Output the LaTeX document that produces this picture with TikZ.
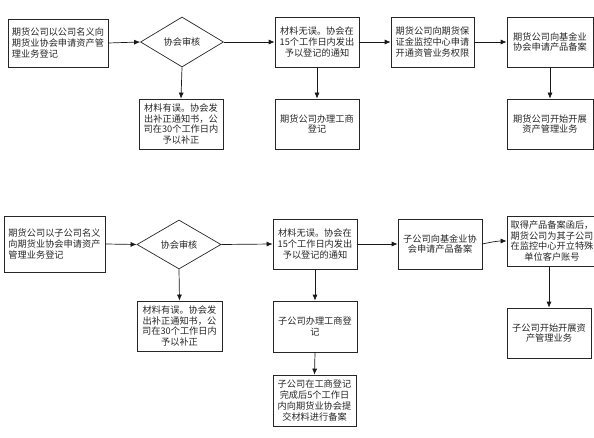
\documentclass[tikz,border=0pt]{standalone}
\usepackage{fontspec}
\setmainfont{Noto Sans CJK SC}
\usetikzlibrary{shapes.geometric,arrows.meta}
\tikzset{
  box/.style={draw=black!85, line width=0.7pt, rectangle, inner sep=0pt, align=center,
    font=\fontsize{9.2}{10.8}\selectfont, text=black!85},
  dia/.style={draw=black!85, line width=0.7pt, diamond, inner sep=0pt, aspect=1.66,
    font=\fontsize{9.2}{10.8}\selectfont, text=black!85},
  arr/.style={draw=black!90, line width=0.7pt, -{Latex[length=6pt,width=5pt]}},
}
\begin{document}
\begin{tikzpicture}[x=1pt,y=-1pt]
\useasboundingbox (0,0) rectangle (594,438);
\clip (0,0) rectangle (594,438);
% top row
\node[box, minimum width=100pt, minimum height=48pt, align=left] (A1) at (58,43)
  {期货公司以公司名义向\\期货业协会申请资产管\\理业务登记};
\node[dia, minimum width=83pt, minimum height=50pt] (D1) at (182,42) {协会审核};
\node[box, minimum width=84pt, minimum height=50pt] (D1L) at (181,124)
  {材料有误。协会发\\出补正通知书，公\\司在30个工作日内\\予以补正};
\node[box, minimum width=84pt, minimum height=50pt] (B1) at (317,42)
  {材料无误。协会在\\15个工作日内发出\\予以登记的通知};
\node[box, minimum width=84pt, minimum height=50pt] (B1L) at (317,124)
  {期货公司办理工商\\登记};
\node[box, minimum width=83pt, minimum height=50pt] (C1) at (432.5,42)
  {期货公司向期货保\\证金监控中心申请\\开通资管业务权限};
\node[box, minimum width=86pt, minimum height=50pt] (E1) at (550,42)
  {期货公司向基金业\\协会申请产品备案};
\node[box, minimum width=86pt, minimum height=50pt] (E1L) at (550,124)
  {期货公司开始开展\\资产管理业务};
\draw[arr] (A1.east) -- (D1.west);
\draw[arr] (D1.east) -- (B1.west);
\draw[arr] (D1.south) -- (D1L.north);
\draw[arr] (B1.east) -- (C1.west);
\draw[arr] (C1.east) -- (E1.west);
\draw[arr] (B1.south) -- (B1L.north);
\draw[arr] (E1.south) -- (E1L.north);
% bottom row
\node[box, minimum width=101pt, minimum height=56pt, align=left] (A2) at (54.5,244)
  {期货公司以子公司名义\\向期货业协会申请资产\\管理业务登记};
\node[dia, minimum width=84pt, minimum height=49pt] (D2) at (179,244.5) {协会审核};
\node[box, minimum width=85pt, minimum height=50pt] (D2L) at (179.5,326)
  {材料有误。协会发\\出补正通知书，公\\司在30个工作日内\\予以补正};
\node[box, minimum width=84pt, minimum height=50pt] (B2) at (315,244)
  {材料无误。协会在\\15个工作日内发出\\予以登记的通知};
\node[box, minimum width=84pt, minimum height=51pt] (B2L) at (315,326.5)
  {子公司办理工商登\\记};
\node[box, minimum width=83pt, minimum height=51pt] (B2B) at (314.5,400.5)
  {子公司在工商登记\\完成后5个工作日\\内向期货业协会提\\交材料进行备案};
\node[box, minimum width=84pt, minimum height=50pt] (C2) at (440,244)
  {子公司向基金业协\\会申请产品备案};
\node[box, minimum width=90pt, minimum height=50pt] (E2) at (552,241)
  {取得产品备案函后，\\期货公司为其子公司\\在监控中心开立特殊\\单位客户账号};
\node[box, minimum width=84pt, minimum height=50pt] (E2L) at (549,333)
  {子公司开始开展资\\产管理业务};
\draw[arr] (A2.east) -- (D2.west);
\draw[arr] (D2.east) -- (B2.west);
\draw[arr] (D2.south) -- (D2L.north);
\draw[arr] (B2.east) -- (C2.west);
\draw[arr] (C2.east) to[out=12,in=180] (E2.west);
\draw[arr] (B2.south) -- (B2L.north);
\draw[arr] (B2L.south) -- (B2B.north);
\draw[arr] (E2L.north |- E2.south) -- (E2L.north);
\end{tikzpicture}
\end{document}
